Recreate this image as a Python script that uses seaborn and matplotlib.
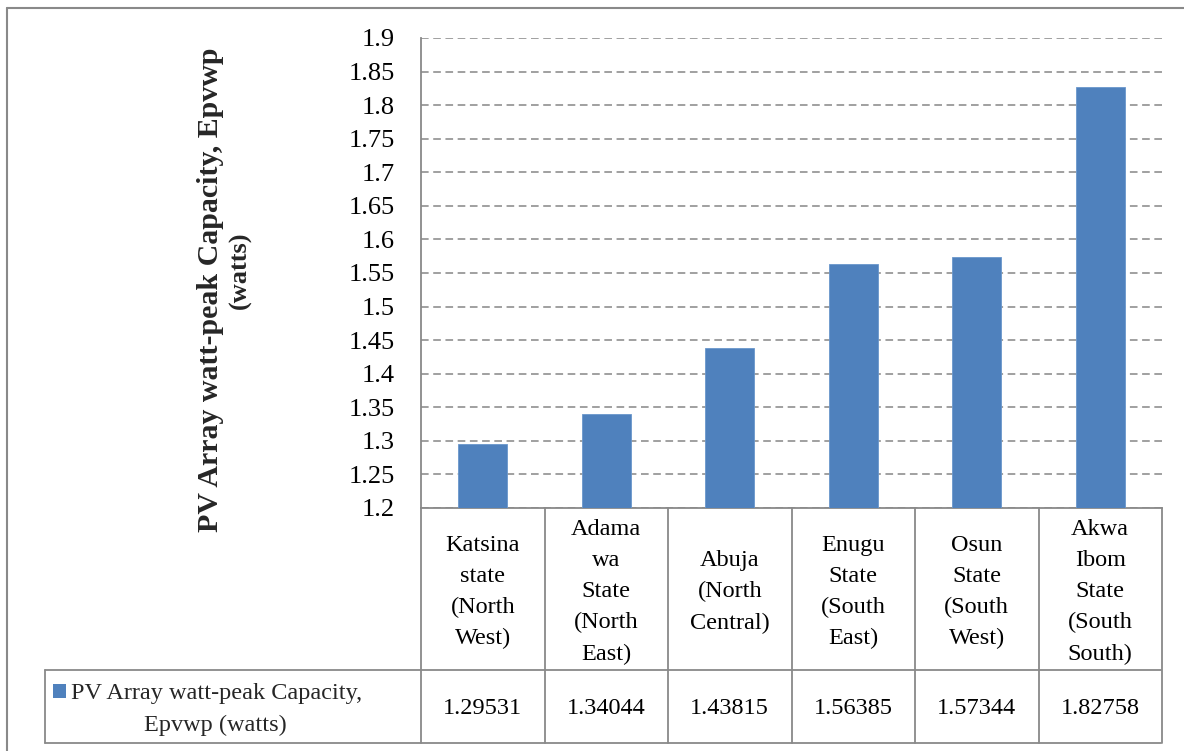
import numpy as np
import pandas as pd
import matplotlib
matplotlib.use("Agg")
import matplotlib.pyplot as plt
import matplotlib.transforms as mtransforms
from matplotlib.lines import Line2D
from matplotlib.patches import Rectangle
import seaborn as sns

# ---------------- data ----------------
categories = [
    "Katsina\nstate\n(North\nWest)",
    "Adama\nwa\nState\n(North\nEast)",
    "Abuja\n(North\nCentral)",
    "Enugu\nState\n(South\nEast)",
    "Osun\nState\n(South\nWest)",
    "Akwa\nIbom\nState\n(South\nSouth)",
]
values = [1.29531, 1.34044, 1.43815, 1.56385, 1.57344, 1.82758]
series_name = "PV Array watt-peak Capacity, Epvwp (watts)"
legend_lines = ["PV Array watt-peak Capacity,", "Epvwp (watts)"]
ylabel_lines = ["PV Array watt-peak Capacity, Epvwp", "(watts)"]
y_ticks = [1.2, 1.25, 1.3, 1.35, 1.4, 1.45, 1.5, 1.55, 1.6, 1.65, 1.7, 1.75, 1.8, 1.85, 1.9]

# ---------------- style ----------------
sns.set_style("white")
plt.rcParams["font.family"] = ["Liberation Serif", "DejaVu Serif"]

W, H = 1184, 751
DPI = 100
fig = plt.figure(figsize=(W / DPI, H / DPI), dpi=DPI)

ax_left, ax_right, ax_top, ax_bottom = 421, 1162, 38, 508
ax = fig.add_axes([ax_left / W, 1 - ax_bottom / H, (ax_right - ax_left) / W, (ax_bottom - ax_top) / H])

grey = "#898989"
bar_color = "#4F81BD"

df = pd.DataFrame({"cat": categories, "val": values})
sns.barplot(data=df, x="cat", y="val", color=bar_color, width=0.395, ax=ax,
            saturation=1, edgecolor="#6A97CC", linewidth=0.6, zorder=3)

ax.set_xlim(-0.5, len(categories) - 0.5)
ax.set_ylim(y_ticks[0], y_ticks[-1])
ax.set_yticks(y_ticks)
ax.set_yticklabels([f"{t:g}" for t in y_ticks])
ax.tick_params(axis="y", length=0, pad=19, labelsize=19, colors="black")
ax.set_xticks([])
ax.set_xlabel("")
ax.set_ylabel("")
ax.yaxis.grid(True, color="#868686", linestyle=(0, (5, 3)), linewidth=1.1, zorder=0)
ax.set_axisbelow(True)
for s in ["top", "right"]:
    ax.spines[s].set_visible(False)
for s in ["left", "bottom"]:
    ax.spines[s].set_color(grey)
    ax.spines[s].set_linewidth(1.3)

# --------------- helpers ---------------
def fy(py):
    return 1 - py / H

def fx(px):
    return px / W

blend = mtransforms.blended_transform_factory(ax.transData, fig.transFigure)

# --------------- data table ---------------
row_top, row_mid, row_bot = 508, 670, 743
legend_left = 45
n = len(categories)
lw = 1.3

fig.add_artist(Line2D([fx(legend_left), fx(ax_right - 1)], [fy(row_mid)] * 2,
                      color=grey, lw=lw, transform=fig.transFigure))
fig.add_artist(Line2D([fx(legend_left), fx(ax_right - 1)], [fy(row_bot)] * 2,
                      color=grey, lw=lw, transform=fig.transFigure))
fig.add_artist(Line2D([fx(legend_left)] * 2, [fy(row_mid), fy(row_bot)],
                      color=grey, lw=lw, transform=fig.transFigure))
for i in range(n + 1):
    xb = i - 0.5
    fig.add_artist(Line2D([xb, xb], [fy(row_top), fy(row_bot)], color=grey, lw=lw,
                          transform=blend, clip_on=False))

for i, (c, v) in enumerate(zip(categories, values)):
    fig.text(i, fy(592), c, transform=blend, ha="center", va="center",
             fontsize=17.5, linespacing=1.62, color="black")
    fig.text(i, fy(709), f"{v:.5f}", transform=blend, ha="center", va="center",
             fontsize=17.5, color="black")

# legend cell
fig.add_artist(Rectangle((fx(53), fy(698)), 13 / W, 14 / H, transform=fig.transFigure,
                         facecolor=bar_color, edgecolor="none"))
fig.text(fx(217), fy(694), legend_lines[0], ha="center", va="center", fontsize=17.5)
fig.text(fx(215), fy(725), legend_lines[1], ha="center", va="center", fontsize=17.5)

# y-axis title (two lines as in the reference)
fig.text(fx(210), fy(290), ylabel_lines[0], rotation=90, ha="center", va="center",
         fontsize=21.5, fontweight="bold")
fig.text(fx(240), fy(270), ylabel_lines[1], rotation=90, ha="center", va="center",
         fontsize=19, fontweight="bold")

# outer chart frame (top and left visible)
fig.add_artist(Line2D([fx(7), 1.0], [fy(8), fy(8)], color=grey, lw=1.5, transform=fig.transFigure))
fig.add_artist(Line2D([fx(7), fx(7)], [fy(8), 0.0], color=grey, lw=1.5, transform=fig.transFigure))

fig.savefig("out.png", dpi=DPI, facecolor="white")
